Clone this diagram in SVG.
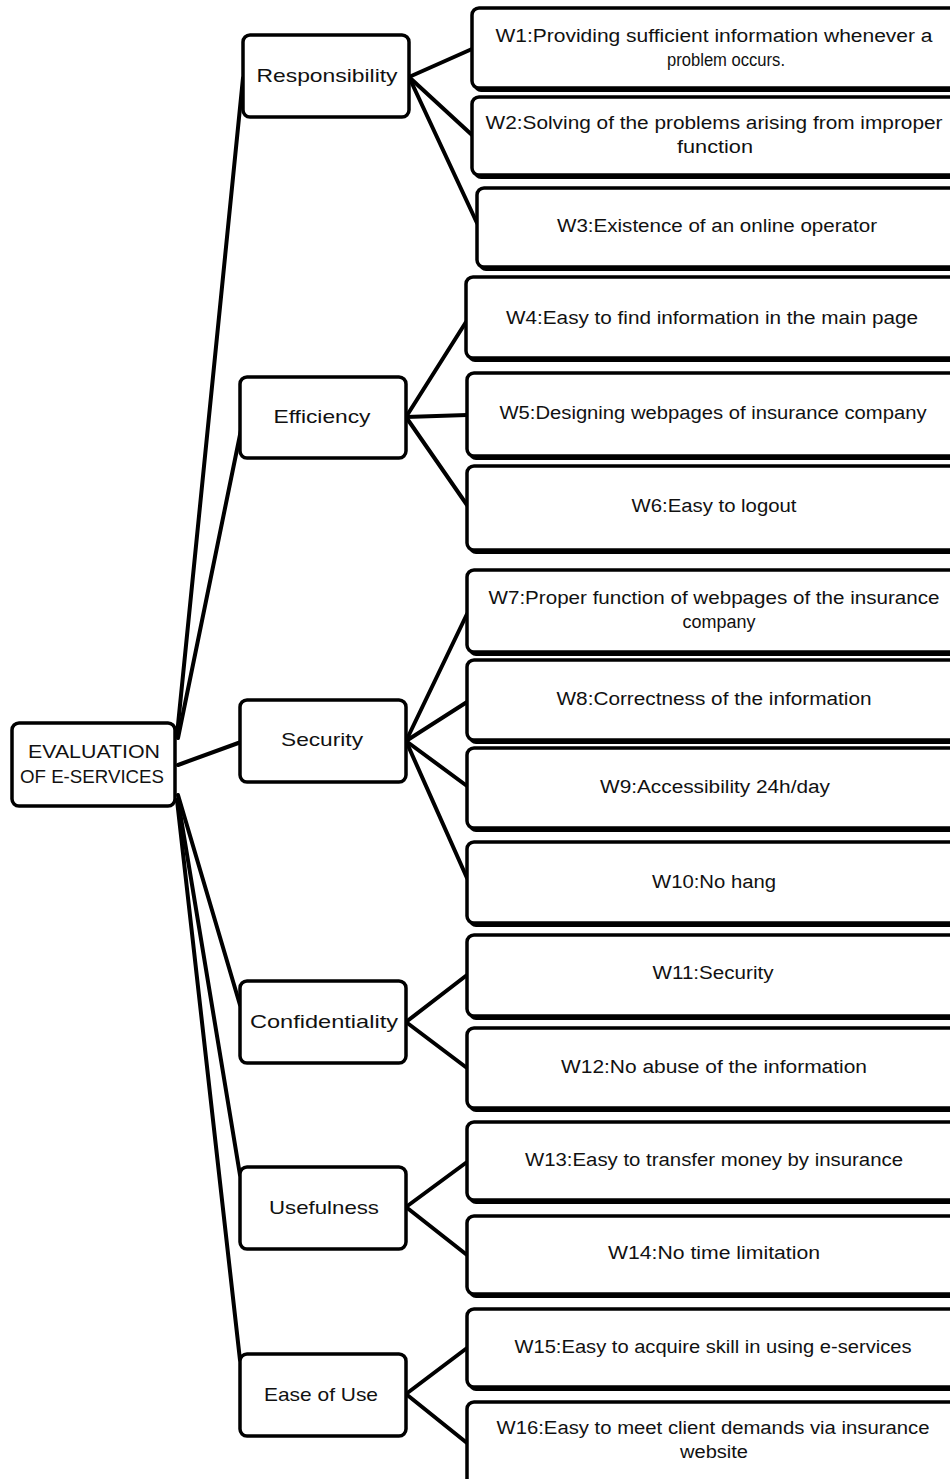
<svg xmlns="http://www.w3.org/2000/svg" width="950" height="1479" viewBox="0 0 950 1479">
<style>
.bg{fill:#fff}
.box{fill:#fff;stroke:#000;stroke-width:3.5}
.shadow{fill:#000}
.con line{stroke:#000;stroke-width:4;stroke-linecap:round}
text{font-family:"Liberation Sans",Arial,sans-serif;fill:#111;text-anchor:middle}
.t{font-size:18px}
.c{font-size:19px}
.r{font-size:19px}
</style>
<rect class="bg" x="0" y="0" width="950" height="1479"/>
<g id="connectors" class="con">
<line x1="177" y1="735" x2="243" y2="78"/>
<line x1="178" y1="738" x2="241" y2="430"/>
<line x1="178" y1="765" x2="241" y2="742"/>
<line x1="178" y1="795" x2="240" y2="1005"/>
<line x1="178" y1="800" x2="240" y2="1175"/>
<line x1="177" y1="800" x2="240" y2="1360"/>
<line x1="409" y1="77" x2="472" y2="49"/>
<line x1="409" y1="77" x2="472" y2="135"/>
<line x1="409" y1="77" x2="477" y2="223"/>
<line x1="406" y1="417" x2="466" y2="322"/>
<line x1="406" y1="417" x2="467" y2="415"/>
<line x1="406" y1="417" x2="467" y2="505"/>
<line x1="406" y1="741" x2="467" y2="614"/>
<line x1="406" y1="741" x2="467" y2="702"/>
<line x1="406" y1="741" x2="467" y2="786"/>
<line x1="406" y1="741" x2="467" y2="878"/>
<line x1="406" y1="1022" x2="467" y2="975"/>
<line x1="406" y1="1022" x2="467" y2="1068"/>
<line x1="406" y1="1207" x2="467" y2="1162"/>
<line x1="406" y1="1207" x2="467" y2="1255"/>
<line x1="406" y1="1394" x2="467" y2="1348"/>
<line x1="406" y1="1394" x2="467" y2="1443"/>
</g>
<g id="root">
<rect class="box" x="12" y="723" width="163" height="83" rx="7"/>
<text class="r" x="94" y="758" textLength="132" lengthAdjust="spacingAndGlyphs">EVALUATION</text>
<text class="r" x="92" y="783" textLength="144" lengthAdjust="spacingAndGlyphs">OF E-SERVICES</text>
</g>
<g id="responsibility">
<rect class="box" x="243" y="35" width="166" height="82" rx="7"/>
<text class="c" x="327" y="82" textLength="141" lengthAdjust="spacingAndGlyphs">Responsibility</text>
</g>
<g id="efficiency">
<rect class="box" x="240" y="377" width="166" height="81" rx="7"/>
<text class="c" x="322" y="423" textLength="97" lengthAdjust="spacingAndGlyphs">Efficiency</text>
</g>
<g id="security">
<rect class="box" x="240" y="700" width="166" height="82" rx="7"/>
<text class="c" x="322" y="746" textLength="82" lengthAdjust="spacingAndGlyphs">Security</text>
</g>
<g id="confidentiality">
<rect class="box" x="240" y="981" width="166" height="82" rx="7"/>
<text class="c" x="324" y="1028" textLength="148" lengthAdjust="spacingAndGlyphs">Confidentiality</text>
</g>
<g id="usefulness">
<rect class="box" x="240" y="1167" width="166" height="82" rx="7"/>
<text class="c" x="324" y="1214" textLength="110" lengthAdjust="spacingAndGlyphs">Usefulness</text>
</g>
<g id="ease-of-use">
<rect class="box" x="240" y="1354" width="166" height="82" rx="7"/>
<text class="c" x="321" y="1401" textLength="114" lengthAdjust="spacingAndGlyphs">Ease of Use</text>
</g>
<g id="w1">
<rect class="shadow" x="474" y="12" width="500" height="80" rx="7"/>
<rect class="box" x="472" y="8" width="500" height="80" rx="7"/>
<text class="t" x="714" y="42" textLength="437" lengthAdjust="spacingAndGlyphs">W1:Providing sufficient information whenever a</text>
<text class="t" x="726" y="66" textLength="118" lengthAdjust="spacingAndGlyphs">problem occurs.</text>
</g>
<g id="w2">
<rect class="shadow" x="474" y="101" width="500" height="78" rx="7"/>
<rect class="box" x="472" y="97" width="500" height="78" rx="7"/>
<text class="t" x="714" y="129" textLength="457" lengthAdjust="spacingAndGlyphs">W2:Solving of the problems arising from improper</text>
<text class="t" x="715" y="153" textLength="76" lengthAdjust="spacingAndGlyphs">function</text>
</g>
<g id="w3">
<rect class="shadow" x="479" y="192" width="500" height="79" rx="7"/>
<rect class="box" x="477" y="188" width="500" height="79" rx="7"/>
<text class="t" x="717" y="232" textLength="320" lengthAdjust="spacingAndGlyphs">W3:Existence of an online operator</text>
</g>
<g id="w4">
<rect class="shadow" x="468" y="281" width="500" height="81" rx="7"/>
<rect class="box" x="466" y="277" width="500" height="81" rx="7"/>
<text class="t" x="712" y="324" textLength="412" lengthAdjust="spacingAndGlyphs">W4:Easy to find information in the main page</text>
</g>
<g id="w5">
<rect class="shadow" x="469" y="377" width="500" height="83" rx="7"/>
<rect class="box" x="467" y="373" width="500" height="83" rx="7"/>
<text class="t" x="713" y="419" textLength="427" lengthAdjust="spacingAndGlyphs">W5:Designing webpages of insurance company</text>
</g>
<g id="w6">
<rect class="shadow" x="469" y="470" width="500" height="84" rx="7"/>
<rect class="box" x="467" y="466" width="500" height="84" rx="7"/>
<text class="t" x="714" y="512" textLength="165" lengthAdjust="spacingAndGlyphs">W6:Easy to logout</text>
</g>
<g id="w7">
<rect class="shadow" x="469" y="574" width="500" height="82" rx="7"/>
<rect class="box" x="467" y="570" width="500" height="82" rx="7"/>
<text class="t" x="714" y="604" textLength="451" lengthAdjust="spacingAndGlyphs">W7:Proper function of webpages of the insurance</text>
<text class="t" x="719" y="628" textLength="73" lengthAdjust="spacingAndGlyphs">company</text>
</g>
<g id="w8">
<rect class="shadow" x="469" y="664" width="500" height="80" rx="7"/>
<rect class="box" x="467" y="660" width="500" height="80" rx="7"/>
<text class="t" x="714" y="705" textLength="315" lengthAdjust="spacingAndGlyphs">W8:Correctness of the information</text>
</g>
<g id="w9">
<rect class="shadow" x="469" y="752" width="500" height="80" rx="7"/>
<rect class="box" x="467" y="748" width="500" height="80" rx="7"/>
<text class="t" x="715" y="793" textLength="230" lengthAdjust="spacingAndGlyphs">W9:Accessibility 24h/day</text>
</g>
<g id="w10">
<rect class="shadow" x="469" y="846" width="500" height="81" rx="7"/>
<rect class="box" x="467" y="842" width="500" height="81" rx="7"/>
<text class="t" x="714" y="888" textLength="124" lengthAdjust="spacingAndGlyphs">W10:No hang</text>
</g>
<g id="w11">
<rect class="shadow" x="469" y="939" width="500" height="81" rx="7"/>
<rect class="box" x="467" y="935" width="500" height="81" rx="7"/>
<text class="t" x="713" y="979" textLength="121" lengthAdjust="spacingAndGlyphs">W11:Security</text>
</g>
<g id="w12">
<rect class="shadow" x="469" y="1032" width="500" height="80" rx="7"/>
<rect class="box" x="467" y="1028" width="500" height="80" rx="7"/>
<text class="t" x="714" y="1073" textLength="306" lengthAdjust="spacingAndGlyphs">W12:No abuse of the information</text>
</g>
<g id="w13">
<rect class="shadow" x="469" y="1126" width="500" height="78" rx="7"/>
<rect class="box" x="467" y="1122" width="500" height="78" rx="7"/>
<text class="t" x="714" y="1166" textLength="378" lengthAdjust="spacingAndGlyphs">W13:Easy to transfer money by insurance</text>
</g>
<g id="w14">
<rect class="shadow" x="469" y="1220" width="500" height="78" rx="7"/>
<rect class="box" x="467" y="1216" width="500" height="78" rx="7"/>
<text class="t" x="714" y="1259" textLength="212" lengthAdjust="spacingAndGlyphs">W14:No time limitation</text>
</g>
<g id="w15">
<rect class="shadow" x="469" y="1313" width="500" height="78" rx="7"/>
<rect class="box" x="467" y="1309" width="500" height="78" rx="7"/>
<text class="t" x="713" y="1353" textLength="397" lengthAdjust="spacingAndGlyphs">W15:Easy to acquire skill in using e-services</text>
</g>
<g id="w16">
<rect class="shadow" x="469" y="1406" width="500" height="90" rx="7"/>
<rect class="box" x="467" y="1402" width="500" height="90" rx="7"/>
<text class="t" x="713" y="1434" textLength="433" lengthAdjust="spacingAndGlyphs">W16:Easy to meet client demands via insurance</text>
<text class="t" x="714" y="1458" textLength="68" lengthAdjust="spacingAndGlyphs">website</text>
</g>
</svg>
